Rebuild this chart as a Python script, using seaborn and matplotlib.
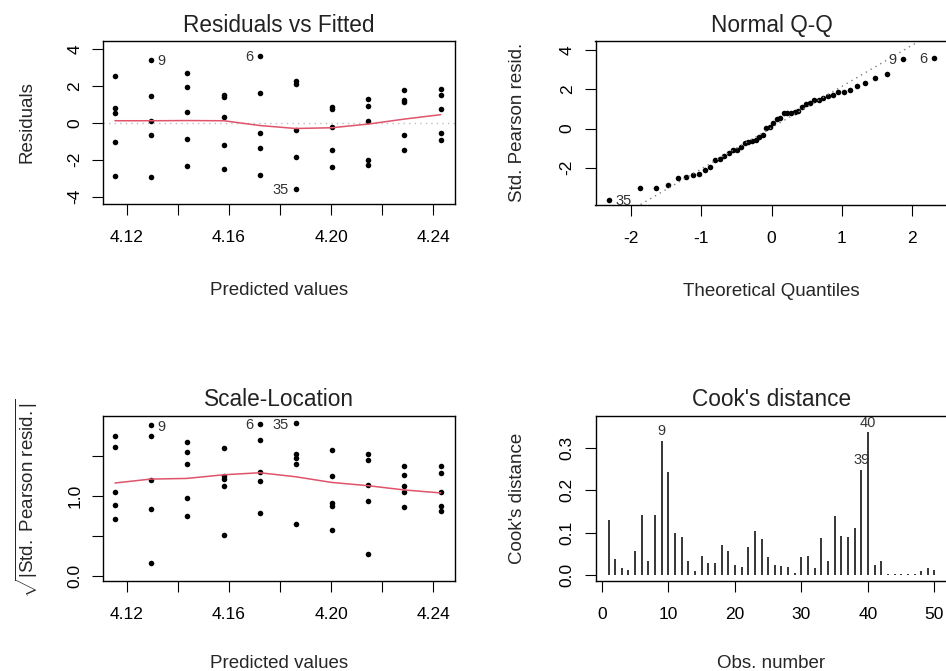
import numpy as np
import pandas as pd
import seaborn as sns
import matplotlib
matplotlib.use("Agg")
import matplotlib.pyplot as plt
from statistics import NormalDist

# ---------------- data ----------------
fitted_levels = [4.1153, 4.1293, 4.1434, 4.1580, 4.1721, 4.1861, 4.2003, 4.2146, 4.2287, 4.2430]

# residuals per fitted level (5 obs each)
residuals = [
    [2.57, 0.81, 0.54, -1.01, -2.86],
    [3.42, 1.47, 0.09, -0.63, -2.95],
    [2.71, 1.94, 0.61, -0.85, -2.33],
    [1.54, 1.43, 0.31, -1.18, -2.50],
    [3.65, 1.63, -0.56, -1.34, -2.81],
    [2.26, 2.13, -0.40, -1.86, -3.58],
    [0.87, 0.78, -0.23, -1.48, -2.40],
    [1.32, 0.90, 0.09, -2.01, -2.28],
    [1.77, 1.23, 1.12, -0.63, -1.48],
    [1.83, 1.54, 0.76, -0.54, -0.94],
]
# standardized Pearson residuals, same points
std_pearson = [
    [2.60, 0.785, 0.50, -1.086, -3.03],
    [3.54, 1.44, 0.024, -0.691, -3.03],
    [2.79, 1.966, 0.549, -0.946, -2.38],
    [1.56, 1.46, 0.259, -1.247, -2.54],
    [3.60, 1.687, -0.605, -1.41, -2.88],
    [2.31, 2.18, -0.423, -1.96, -3.62],
    [0.82, 0.77, -0.321, -1.54, -2.47],
    [1.295, 0.882, 0.071, -2.11, -2.33],
    [1.886, 1.247, 1.086, -0.748, -1.592],
    [1.886, 1.633, 0.77, -0.65, -1.104],
]
point_ids = [
    ["", "", "", "", ""],
    ["9", "", "", "", ""],
    ["", "", "", "", ""],
    ["", "", "", "", ""],
    ["6", "", "", "", ""],
    ["", "", "", "", "35"],
    ["", "", "", "", ""],
    ["", "", "", "", ""],
    ["", "", "", "", ""],
    ["", "", "", "", ""],
]

# smoother values at each fitted level
rvf_smooth = [0.12, 0.12, 0.13, 0.12, -0.14, -0.30, -0.26, -0.06, 0.21, 0.45]
sl_smooth = [1.159, 1.208, 1.216, 1.262, 1.287, 1.237, 1.166, 1.125, 1.072, 1.035]

# Cook's distance by observation number
cooks_d = [0.130, 0.039, 0.016, 0.0125, 0.056, 0.141, 0.033, 0.141, 0.315, 0.242,
           0.099, 0.090, 0.033, 0.009, 0.046, 0.029, 0.029, 0.070, 0.056, 0.023,
           0.020, 0.066, 0.103, 0.084, 0.043, 0.023, 0.021, 0.019, 0.004, 0.043,
           0.046, 0.016, 0.087, 0.033, 0.140, 0.093, 0.090, 0.110, 0.248, 0.336,
           0.023, 0.033, 0.003, 0.003, 0.003, 0.003, 0.003, 0.010, 0.016, 0.012]
cook_flagged = [9, 39, 40]

# ---------------- frames ----------------
rows = []
for lvl, rs, ss, ids in zip(fitted_levels, residuals, std_pearson, point_ids):
    for r, s, i in zip(rs, ss, ids):
        rows.append(dict(fitted=lvl, resid=r, std=s, id=i))
df = pd.DataFrame(rows)
df["sqrt_abs"] = np.sqrt(np.abs(df["std"]))
smooth = pd.DataFrame(dict(fitted=fitted_levels, rvf=rvf_smooth, sl=sl_smooth))

n = len(df)
qq = df.sort_values("std").reset_index(drop=True)
qq["theo"] = [NormalDist().inv_cdf((i + 0.5) / n) for i in range(n)]

cook = pd.DataFrame(dict(obs=np.arange(1, len(cooks_d) + 1), d=cooks_d))

# ---------------- style ----------------
sns.set_style("white")
plt.rcParams["font.family"] = ["Liberation Sans", "DejaVu Sans"]
plt.rcParams["mathtext.fontset"] = "custom"
plt.rcParams["mathtext.rm"] = "Liberation Sans"
plt.rcParams["mathtext.it"] = "Liberation Sans:italic"

TICK = 12.5
LAB = 13.5
TITLE = 16.3
IDS = 10.5
RED = "#DF536B"
TXT = "#333333"
DOT = 16

W, H = 946, 671
fig = plt.figure(figsize=(W / 100, H / 100), dpi=100)


def add_ax(l, t, r, b):
    return fig.add_axes([l / W, 1 - b / H, (r - l) / W, (b - t) / H])


ax1 = add_ax(103, 41, 455, 204)
ax2 = add_ax(595.5, 41, 947.5, 204.5)
ax3 = add_ax(103, 415.7, 455, 580.7)
ax4 = add_ax(595.5, 415.7, 947.5, 580.7)


def style(ax, title, xlabel, ylabel, ylab_x, xlab_y):
    for sp in ax.spines.values():
        sp.set_visible(True)
        sp.set_color("black")
        sp.set_linewidth(1.0)
    ax.tick_params(axis="both", direction="out", length=8, width=0.8, color="black",
                   labelsize=TICK, labelcolor="black", bottom=True, left=True)
    ax.tick_params(axis="x", pad=11)
    ax.tick_params(axis="y", pad=7, labelrotation=90)
    for lb in ax.get_yticklabels():
        lb.set_va("center")
    ax.text(0.5, 1.057, title, transform=ax.transAxes, ha="center", va="baseline",
            fontsize=TITLE, color="#222222")
    ax.set_xlabel(xlabel, fontsize=LAB, va="center")
    ax.set_ylabel(ylabel, fontsize=LAB, va="center")
    ax.yaxis.set_label_coords(ylab_x, 0.5)
    ax.xaxis.set_label_coords(0.5, xlab_y)
    ax.grid(False)


# ---- Residuals vs Fitted ----
ax1.axhline(0, color="#BEBEBE", lw=1, ls=(0, (1, 3)))
sns.scatterplot(data=df, x="fitted", y="resid", ax=ax1, color="black", s=DOT,
                linewidth=0, legend=False)
sns.lineplot(data=smooth, x="fitted", y="rvf", ax=ax1, color=RED, lw=1.1,
             sort=True, estimator=None)
for _, r in df[df["id"] != ""].iterrows():
    right = r["id"] == "9"
    ax1.annotate(r["id"], (r["fitted"], r["resid"]), xytext=(5 if right else -5, -1),
                 textcoords="offset points", ha="left" if right else "right",
                 va="center", fontsize=IDS, color=TXT)
ax1.set_xlim(4.1106, 4.2486)
ax1.set_ylim(-4.40, 4.45)
ax1.set_xticks([4.12, 4.14, 4.16, 4.18, 4.20, 4.22, 4.24])
ax1.set_xticklabels(["4.12", "", "4.16", "", "4.20", "", "4.24"])
ax1.set_yticks([-4, -2, 0, 2, 4])
ax1.set_yticklabels(["-4", "-2", "0", "2", "4"])
style(ax1, "Residuals vs Fitted", "Predicted values", "Residuals",
      (27 - 103) / 352, -(291 - 204) / 163)

# ---- Normal Q-Q ----
q1, q3 = np.quantile(df["std"], [0.25, 0.75])
z1, z3 = NormalDist().inv_cdf(0.25), NormalDist().inv_cdf(0.75)
slope = (q3 - q1) / (z3 - z1)
icpt = q1 - slope * z1
ax2.axline((0, icpt), slope=slope, color="#7F7F7F", lw=1, ls=(0, (1, 3)))
sns.scatterplot(data=qq, x="theo", y="std", ax=ax2, color="black", s=DOT,
                linewidth=0, legend=False)
for _, r in qq[qq["id"] != ""].iterrows():
    right = r["id"] == "35"
    ax2.annotate(r["id"], (r["theo"], r["std"]), xytext=(5 if right else -5, -1),
                 textcoords="offset points", ha="left" if right else "right",
                 va="center", fontsize=IDS, color=TXT)
ax2.set_xlim(-2.512, 2.512)
ax2.set_ylim(-3.87, 4.46)
ax2.set_xticks([-2, -1, 0, 1, 2])
ax2.set_xticklabels(["-2", "-1", "0", "1", "2"])
ax2.set_yticks([-2, 0, 2, 4])
ax2.set_yticklabels(["-2", "0", "2", "4"])
style(ax2, "Normal Q-Q", "Theoretical Quantiles", "Std. Pearson resid.",
      (517 - 595.5) / 352, -(291 - 204.5) / 163.5)

# ---- Scale-Location ----
sns.scatterplot(data=df, x="fitted", y="sqrt_abs", ax=ax3, color="black", s=DOT,
                linewidth=0, legend=False)
sns.lineplot(data=smooth, x="fitted", y="sl", ax=ax3, color=RED, lw=1.1,
             sort=True, estimator=None)
for _, r in df[df["id"] != ""].iterrows():
    right = r["id"] == "9"
    ax3.annotate(r["id"], (r["fitted"], r["sqrt_abs"]), xytext=(5 if right else -5, -1),
                 textcoords="offset points", ha="left" if right else "right",
                 va="center", fontsize=IDS, color=TXT)
ax3.set_xlim(4.1106, 4.2486)
ax3.set_ylim(-0.062, 2.0)
ax3.set_xticks([4.12, 4.14, 4.16, 4.18, 4.20, 4.22, 4.24])
ax3.set_xticklabels(["4.12", "", "4.16", "", "4.20", "", "4.24"])
ax3.set_yticks([0, 0.5, 1.0, 1.5])
ax3.set_yticklabels(["0.0", "", "1.0", ""])
style(ax3, "Scale-Location", "Predicted values",
      r"$\sqrt{|\mathrm{Std.\ Pearson\ resid.}|}$",
      (27 - 103) / 352, -(664 - 580.7) / 165)

# ---- Cook's distance ----
ax4.vlines(cook["obs"], 0, cook["d"], color="black", lw=1.1)
for k in cook_flagged:
    ax4.annotate(str(k), (k, cooks_d[k - 1]), xytext=(0, 2), textcoords="offset points",
                 ha="center", va="bottom", fontsize=IDS, color=TXT)
ax4.set_xlim(-0.96, 51.96)
ax4.set_ylim(-0.013, 0.375)
ax4.set_xticks([0, 10, 20, 30, 40, 50])
ax4.set_xticklabels(["0", "10", "20", "30", "40", "50"])
ax4.set_yticks([0, 0.1, 0.2, 0.3])
ax4.set_yticklabels(["0.0", "0.1", "0.2", "0.3"])
style(ax4, "Cook's distance", "Obs. number", "Cook's distance",
      (517 - 595.5) / 352, -(664 - 580.7) / 165)

fig.savefig("out.png", dpi=100, facecolor="white")
